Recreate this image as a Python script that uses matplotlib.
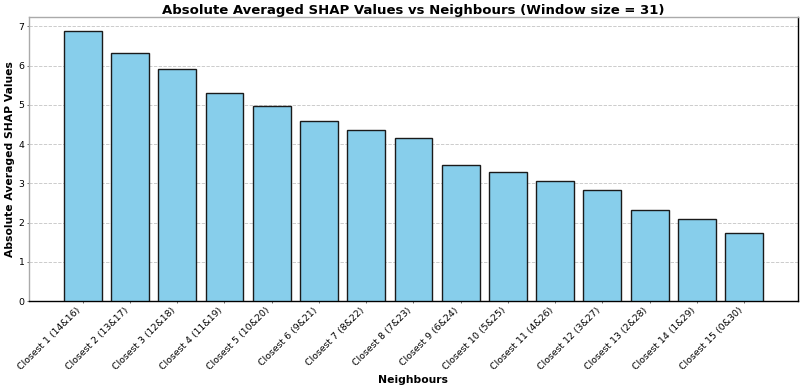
import numpy as np
import matplotlib.pyplot as plt

labels = ["Closest 1 (14&16)", "Closest 2 (13&17)", "Closest 3 (12&18)", "Closest 4 (11&19)",
          "Closest 5 (10&20)", "Closest 6 (9&21)", "Closest 7 (8&22)", "Closest 8 (7&23)",
          "Closest 9 (6&24)", "Closest 10 (5&25)", "Closest 11 (4&26)", "Closest 12 (3&27)",
          "Closest 13 (2&28)", "Closest 14 (1&29)", "Closest 15 (0&30)"]
values = [6.89, 6.32, 5.91, 5.30, 4.96, 4.60, 4.36, 4.16, 3.47, 3.29, 3.05, 2.83, 2.31, 2.09, 1.73]

fig, ax = plt.subplots(figsize=(16, 7.82), dpi=50)
x = np.arange(len(labels))
ax.bar(x, values, width=0.8, color="skyblue", edgecolor="#1a1a1a", linewidth=2, zorder=3)
ax.set_xticks(x)
ax.set_xticklabels(labels, rotation=45, ha="right", fontsize=13.5)
ax.tick_params(axis="y", labelsize=13.5)
ax.set_ylim(0, 7.24)
ax.grid(axis="y", linestyle="--", color="#bbbbbb", linewidth=1.3, alpha=0.8, zorder=0)
ax.set_title("Absolute Averaged SHAP Values vs Neighbours (Window size = 31)", fontsize=19, fontweight="bold", pad=4)
ax.set_xlabel("Neighbours", fontsize=15.5, fontweight="bold")
ax.set_ylabel("Absolute Averaged SHAP Values", fontsize=15.5, fontweight="bold")
for s in ["left", "top"]:
    ax.spines[s].set_color("#aaaaaa")
for s in ax.spines.values():
    s.set_linewidth(2)

plt.subplots_adjust(left=0.036, right=0.9975, top=0.9565, bottom=0.23)
plt.savefig("out.png")
